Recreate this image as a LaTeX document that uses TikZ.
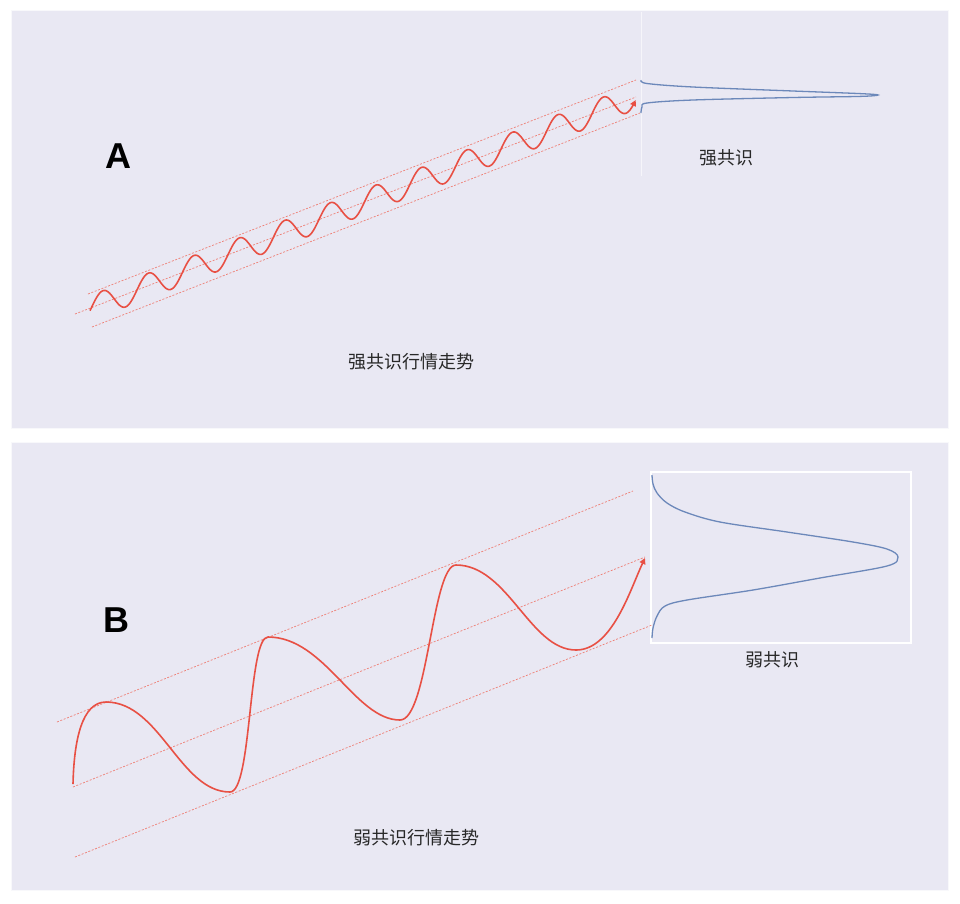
\documentclass[tikz,border=0pt]{standalone}
\usepackage{fontspec}
\setmainfont{Liberation Sans}
\newfontfamily\cjk{Noto Sans CJK SC}
\usepackage{tikz}
\usetikzlibrary{arrows.meta,calc}
\usepackage{xcolor}
\definecolor{panelbg}{RGB}{233,232,243}
\definecolor{wavered}{RGB}{232,80,68}
\definecolor{dashred}{RGB}{238,128,118}
\definecolor{distblue}{RGB}{108,136,186}
\definecolor{textgray}{RGB}{40,40,40}

\begin{document}
\begin{tikzpicture}[x=1pt, y=-1pt,
    panel/.style={fill=panelbg, draw=white!70!panelbg, line width=1pt},
    guide/.style={dashred, line width=0.7pt, dash pattern=on 2pt off 1.6pt},
    wave/.style={wavered, line width=1.6pt, line join=round, -{Triangle[length=6pt,width=6pt]}},
    dist/.style={distblue, line width=1.3pt},
    caption/.style={textgray, font=\cjk\fontsize{18}{22}\selectfont},
    letter/.style={black, font=\bfseries\fontsize{36}{40}\selectfont}]
    \useasboundingbox (0,0) rectangle (960,903);
    \fill[white] (0,0) rectangle (960,903);

    % Panel A
    \draw[panel] (11,10) rectangle (948,428);
    \node[letter] (labA) at (118,156) {A};
    \draw[white, opacity=0.6, line width=0.8pt] (641,12) -- (641,176);

    % channel A
    \draw[guide] (88,294) -- (636,80);
    \draw[guide] (75,314) -- (636,97);
    \draw[guide] (92,327) -- (640,113);

    % strong trend
    \draw[wave] plot[domain=0:1, samples=500, variable=\t]
        ({90+546*\t}, {314-0.387*(15+546*\t) - 12.5*sin(deg(2*pi*12*\t - 0.2))});

    % narrow distribution
    \draw[dist] plot[smooth, tension=0.55] coordinates {
        (641,80) (647,83.5) (693,87) (793,91) (860,93.6) (878,95)
        (860,96.4) (793,97.5) (693,100) (647,103) (642,107) (641,113)};

    \node[caption] (capA) at (726,158) {强共识};
    \node[caption] (titleA) at (411,362) {强共识行情走势};

    % Panel B
    \draw[panel] (11,442) rectangle (948,890);
    \node[letter] (labB) at (116,620) {B};
    \draw[white, line width=1.2pt] (651,472) rectangle (911,643);

    % channel B
    \draw[guide] (57,722) -- (633,491);
    \draw[guide] (73,787) -- (645,557);
    \draw[guide] (75,857) -- (652,625);

    % weak trend
    \draw[wave] (73,784)
        .. controls (74,740) and (82,702) .. (106,702)
        .. controls (160,702) and (180,792) .. (230,792)
        .. controls (252,792) and (248,637) .. (268,637)
        .. controls (325,637) and (355,720) .. (400,720)
        .. controls (428,720) and (432,565) .. (456,565)
        .. controls (508,565) and (530,650) .. (576,650)
        .. controls (612,650) and (630,590) .. (645,558);

    % wide distribution
    \draw[dist] plot[smooth, tension=0.55] coordinates {
        (652,475) (653,484) (657,493) (667,503) (685,512) (720,522)
        (787,532) (853,542) (887,549) (898,557) (887,566) (820,578)
        (753,590) (687,600) (665,606) (657,616) (653,628) (652,638)};

    \node[caption] (capB) at (772,660) {弱共识};
    \node[caption] (titleB) at (416,838) {弱共识行情走势};
\end{tikzpicture}
\end{document}
